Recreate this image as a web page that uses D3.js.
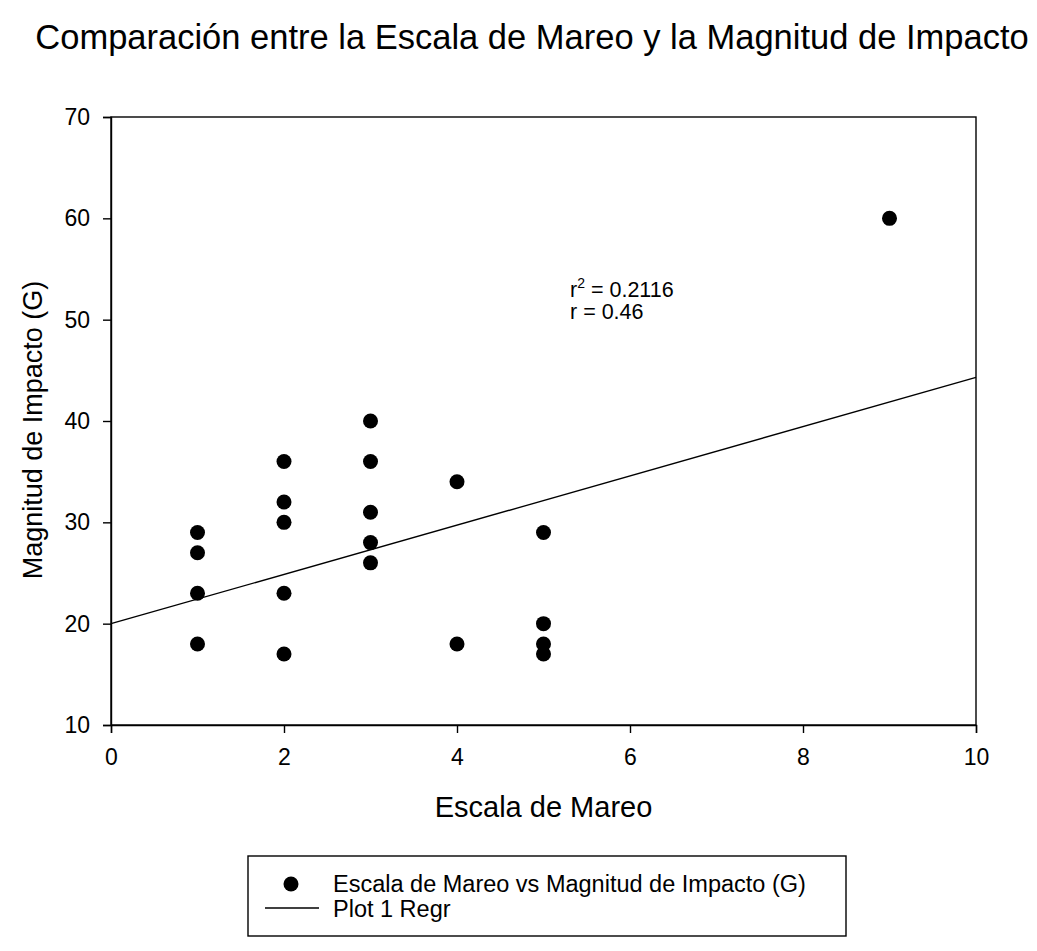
<!DOCTYPE html>
<html>
<head>
<meta charset="utf-8">
<script src="https://cdn.jsdelivr.net/npm/d3@7"></script>
<style>
  body { margin: 0; background: #fff; }
  svg text { font-family: 'Liberation Sans', Arial, sans-serif; fill: #000; }
</style>
</head>
<body>
<div id="chart"></div>
<script>
// values
const escala = [1, 1, 1, 1, 2, 2, 2, 2, 2, 3, 3, 3, 3, 3, 4, 4, 5, 5, 5, 5, 9];
const magnitud = [29, 27, 23, 18, 36, 32, 30, 23, 17, 40, 36, 31, 28, 26, 34, 18, 29, 20, 18, 17, 60];
const regrX = [0, 10];
const regrY = [20.0, 44.3];
const xTicks = [0, 2, 4, 6, 8, 10];
const yTicks = [10, 20, 30, 40, 50, 60, 70];
const statsLines = ['r', 'r = 0.46'];

const width = 1037;
const height = 951;
const margin = { top: 117, left: 111 };
const innerWidth = 976 - margin.left;
const innerHeight = 725 - margin.top;
const FONT = "'Liberation Sans', Arial, sans-serif";

const svg = d3.select('#chart')
  .append('svg')
  .attr('width', width)
  .attr('height', height);

svg.append('text')
  .attr('x', 532)
  .attr('y', 49)
  .attr('text-anchor', 'middle')
  .attr('font-size', '34.5px')
  .text('Comparación entre la Escala de Mareo y la Magnitud de Impacto');

const g = svg.append('g')
  .attr('transform', `translate(${margin.left},${margin.top})`);

const xScale = d3.scaleLinear().domain([0, 10]).range([0, innerWidth]);
const yScale = d3.scaleLinear().domain([10, 70]).range([innerHeight, 0]);

// frame
g.append('rect')
  .attr('width', innerWidth)
  .attr('height', innerHeight)
  .attr('fill', 'none')
  .attr('stroke', '#000')
  .attr('stroke-width', 1.4);

const xAxis = d3.axisBottom(xScale).tickValues(xTicks).tickSize(8).tickPadding(16).tickFormat(d3.format('d'));
const yAxis = d3.axisLeft(yScale).tickValues(yTicks).tickSize(8).tickPadding(13).tickFormat(d3.format('d'));

const gx = g.append('g')
  .attr('transform', `translate(0,${innerHeight})`)
  .call(xAxis);
const gy = g.append('g').call(yAxis);

[gx, gy].forEach((ax) => {
  ax.select('.domain').attr('stroke-width', 1.4);
  ax.selectAll('.tick line').attr('stroke-width', 1.4);
  ax.selectAll('.tick text')
    .attr('font-size', '23px')
    .attr('font-family', FONT);
});

// axis titles
g.append('text')
  .attr('x', innerWidth / 2)
  .attr('y', 817 - margin.top)
  .attr('text-anchor', 'middle')
  .attr('font-size', '29px')
  .text('Escala de Mareo');

g.append('text')
  .attr('transform', `translate(${42 - margin.left},${430 - margin.top}) rotate(-90)`)
  .attr('text-anchor', 'middle')
  .attr('font-size', '27px')
  .text('Magnitud de Impacto (G)');

// regression line
const line = d3.line()
  .x((d) => xScale(d[0]))
  .y((d) => yScale(d[1]));
g.append('path')
  .attr('d', line(d3.zip(regrX, regrY)))
  .attr('fill', 'none')
  .attr('stroke', '#000')
  .attr('stroke-width', 1.4);

// points
g.selectAll('circle.pt')
  .data(d3.zip(escala, magnitud))
  .enter()
  .append('circle')
  .attr('class', 'pt')
  .attr('cx', (d) => xScale(d[0]))
  .attr('cy', (d) => yScale(d[1]))
  .attr('r', 7.5)
  .attr('fill', '#000');

// stats annotation
const stats = g.append('text')
  .attr('x', 459)
  .attr('y', 297 - margin.top)
  .attr('font-size', '21.5px');
stats.append('tspan').text(statsLines[0]);
stats.append('tspan').attr('dy', -9).attr('font-size', '14px').text('2');
stats.append('tspan').attr('dy', 9).text(' = 0.2116');
g.append('text')
  .attr('x', 459)
  .attr('y', 319 - margin.top)
  .attr('font-size', '21.5px')
  .text(statsLines[1]);

// legend
const legend = svg.append('g').attr('transform', 'translate(248,856)');
legend.append('rect')
  .attr('width', 598)
  .attr('height', 80)
  .attr('fill', 'none')
  .attr('stroke', '#000')
  .attr('stroke-width', 1.4);
legend.append('circle')
  .attr('cx', 43)
  .attr('cy', 28)
  .attr('r', 7.5)
  .attr('fill', '#000');
legend.append('text')
  .attr('x', 85)
  .attr('y', 36)
  .attr('font-size', '23.5px')
  .text('Escala de Mareo vs Magnitud de Impacto (G)');
legend.append('line')
  .attr('x1', 17)
  .attr('x2', 71)
  .attr('y1', 52)
  .attr('y2', 52)
  .attr('stroke', '#000')
  .attr('stroke-width', 1.4);
legend.append('text')
  .attr('x', 85)
  .attr('y', 61)
  .attr('font-size', '23.5px')
  .text('Plot 1 Regr');
</script>
</body>
</html>
